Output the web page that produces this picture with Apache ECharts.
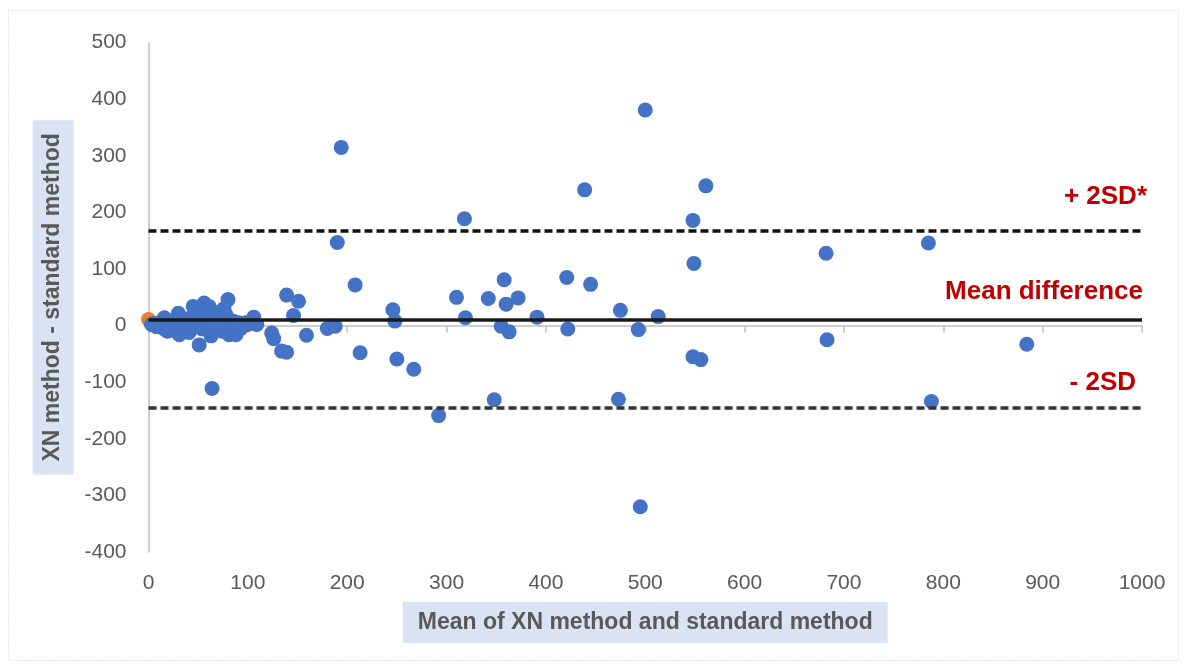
<!DOCTYPE html>
<html>
<head>
<meta charset="utf-8">
<title>Bland-Altman XN method</title>
<script src="https://cdn.jsdelivr.net/npm/echarts@6/dist/echarts.min.js"></script>
<style>
	html, body { margin: 0; padding: 0; background: #fff; }
	#main { width: 1187px; height: 664px; }
</style>
</head>
<body>
<div id="main"></div>
<script>
// ==========================
// 数据
// ==========================
var meanVals = [
	500, 194, 439, 561, 318, 548, 190, 785, 682, 549,
	208, 421, 445, 358, 310, 342, 360, 372, 391, 319,
	355, 363, 246, 248, 139, 151, 146, 159, 106, 109,
	124, 126, 134, 139, 180, 188, 213, 250, 267, 292,
	348, 475, 513, 422, 493, 548, 556, 473, 495, 683,
	884, 788, 64, 51,
	80, 56, 45, 61, 71, 78, 30, 79, 81, 88,
	83, 63, 68, 31, 41, 16, 11, 5, 24, 49,
	58, 71, 98, 91, 3, 8, 12, 15, 18, 20,
	22, 25, 27, 28, 33, 35, 37, 40, 43, 46,
	48, 52, 54, 60, 65, 66, 70, 74, 76, 85,
	93, 100, 57, 36, 19, 62, 64
];
var diffVals = [
	381, 315, 240, 247, 189, 186, 147, 146, 128, 110,
	72, 85, 73, 81, 50, 48, 38, 49, 15, 14,
	-1, -11, 28, 8, 54, 43, 18, -17, 15, 2,
	-13, -23, -45, -47, -5, -1, -48, -59, -77, -159,
	-131, 27, 16, -6, -7, -55, -60, -130, -320, -25,
	-33, -134, -111, -34,
	46, 40, 34, 34, 22, 19, 22, 5, -16, -16,
	-13, -18, -7, -16, -12, 14, 5, 4, -2, 5,
	-1, 11, 5, 5, 2, -2, 0, -5, 3, 8,
	-8, 6, 10, -4, 3, -8, 12, 2, -5, 20,
	28, 15, -6, 12, 25, -3, 0, -10, 30, 8,
	-5, 2, 22, -2, -10, -12, -8
];
var meanPoint = [[0, 11]];

var meanDiff = 10.5;
var upperSD = 167;
var lowerSD = -145.5;

var xMin = 0, xMax = 1000, xStep = 100;
var yMin = -400, yMax = 500, yStep = 100;

var points = [];
for (var i = 0; i < meanVals.length; i++) {
	points.push([meanVals[i], diffVals[i]]);
}

var labelFont = 'Liberation Sans, Arial, sans-serif';
var grey = '#595959';

var chart = echarts.init(document.getElementById('main'));
var option = {
	animation : false,
	backgroundColor : '#fff',
	grid : {
		left : 148.5,
		right : 45,
		top : 42.7,
		bottom : 112
	},
	xAxis : [ {
		type : 'value',
		min : xMin,
		max : xMax,
		interval : xStep,
		axisLine : { show : false, onZero : false },
		axisTick : { show : false },
		splitLine : { show : false },
		axisLabel : {
			margin : 21,
			color : grey,
			fontSize : 21,
			fontFamily : labelFont,
			formatter : function(v) {
				return String(v);
			}
		},
		name : 'Mean of XN method and standard method',
		nameLocation : 'middle',
		nameGap : 50,
		nameTextStyle : {
			color : grey,
			fontSize : 23,
			fontWeight : 'bold',
			fontFamily : labelFont,
			backgroundColor : '#DAE3F3',
			padding : [ 9, 15, 9, 15 ]
		}
	}, {
		// the grey axis line that crosses at zero
		type : 'value',
		min : xMin,
		max : xMax,
		interval : xStep,
		position : 'bottom',
		axisLine : {
			onZero : true,
			lineStyle : { color : '#BFBFBF', width : 1.5 }
		},
		axisTick : {
			show : true,
			length : 7,
			lineStyle : { color : '#BFBFBF', width : 1.5 }
		},
		axisLabel : { show : false },
		splitLine : { show : false }
	} ],
	yAxis : {
		type : 'value',
		min : yMin,
		max : yMax,
		interval : yStep,
		axisLine : {
			show : true,
			onZero : false,
			lineStyle : { color : '#BFBFBF', width : 1.5 }
		},
		axisTick : { show : false },
		splitLine : { show : false },
		axisLabel : {
			margin : 22,
			color : grey,
			fontSize : 21,
			fontFamily : labelFont
		},
		name : 'XN method - standard method',
		nameLocation : 'middle',
		nameRotate : 90,
		nameGap : 66,
		nameTextStyle : {
			color : grey,
			fontSize : 23,
			fontWeight : 'bold',
			fontFamily : labelFont,
			backgroundColor : '#DAE3F3',
			padding : [ 9, 13, 9, 13 ]
		}
	},
	series : [ {
		name : 'mean',
		type : 'scatter',
		clip : false,
		symbolSize : 15,
		data : meanPoint,
		itemStyle : { color : '#ED7D31', opacity : 1 },
		z : 1
	}, {
		name : 'limits',
		type : 'scatter',
		data : [],
		markLine : {
			silent : true,
			symbol : 'none',
			label : { show : false },
			data : [ {
				yAxis : meanDiff,
				lineStyle : { color : '#1a1a1a', width : 3.5, type : 'solid' }
			}, {
				yAxis : upperSD,
				lineStyle : { color : '#111', width : 3.5, type : [ 8, 4 ] }
			}, {
				yAxis : lowerSD,
				lineStyle : { color : '#333', width : 3.5, type : [ 8, 4 ] }
			} ]
		},
		z : 2
	}, {
		name : 'points',
		type : 'scatter',
		symbolSize : 15,
		data : points,
		itemStyle : {
			color : '#4472C4',
			opacity : 1
		},
		z : 3
	} ]
};
chart.setOption(option);

// ==========================
// 标注 (red labels over the lines)
// ==========================
var xEnd = chart.convertToPixel({ xAxisIndex : 0 }, xMax);
function yPix(v) {
	return chart.convertToPixel({ yAxisIndex : 0 }, v);
}
function redLabel(text, value, dx, dy) {
	return {
		type : 'text',
		x : xEnd + dx,
		y : yPix(value) + dy,
		z : 10,
		style : {
			text : text,
			fill : '#C00000',
			font : 'bold 26px ' + labelFont,
			align : 'right',
			verticalAlign : 'middle'
		}
	};
}
chart.setOption({
	graphic : [ {
		type : 'rect',
		shape : { x : 8.5, y : 10.5, width : 1170, height : 650 },
		style : { fill : 'none', stroke : '#CFCFCF', lineWidth : 1, lineDash : [ 1, 2 ] },
		silent : true
	},
	redLabel('+ 2SD*', upperSD, 5, -34),
	redLabel('Mean difference', meanDiff, 1, -27.5),
	redLabel('- 2SD', lowerSD, -6, -25) ]
});
</script>
</body>
</html>
